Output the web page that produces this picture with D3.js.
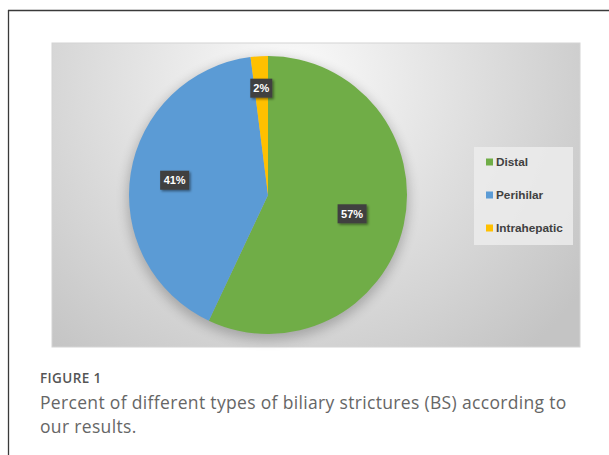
<!DOCTYPE html>
<meta charset="UTF-8">
<html>
<head>
	<title>Figure 1</title>
	<script src="https://d3js.org/d3.v7.min.js"></script>
	<style>
		body { margin: 0; background: #fff; }
		svg { display: block; }
	</style>
</head>
<body>
	<svg id="fig" width="609" height="455"></svg>

	<script>
		// data
		var categories = ["Distal", "Perihilar", "Intrahepatic"];
		var values = [57, 41, 2];
		var colors = ["#70AD47", "#5B9BD5", "#FFC000"];
		var captionHead = "FIGURE 1";
		var captionLines = ["Percent of different types of biliary strictures (BS) according to", "our results."];

		var svg = d3.select("#fig");
		var defs = svg.append("defs");

		// gray backdrop, lighter at the top middle
		var grad = defs.append("radialGradient")
			.attr("id", "bg")
			.attr("gradientUnits", "userSpaceOnUse")
			.attr("cx", 290).attr("cy", 80).attr("r", 360);
		grad.append("stop").attr("offset", "0%").attr("stop-color", "#fbfbfb");
		grad.append("stop").attr("offset", "45%").attr("stop-color", "#e2e2e2");
		grad.append("stop").attr("offset", "100%").attr("stop-color", "#c4c4c4");

		var blur = defs.append("filter").attr("id", "soft")
			.attr("x", "-20%").attr("y", "-20%").attr("width", "140%").attr("height", "140%");
		blur.append("feGaussianBlur").attr("stdDeviation", 6);

		var lblShadow = defs.append("filter").attr("id", "lblsh")
			.attr("x", "-30%").attr("y", "-30%").attr("width", "160%").attr("height", "160%");
		lblShadow.append("feDropShadow").attr("dx", 1.5).attr("dy", 1.5)
			.attr("stdDeviation", 1.2).attr("flood-color", "#000").attr("flood-opacity", 0.45);

		// outer frame (left + top rules)
		svg.append("line").attr("x1", 8.5).attr("y1", 10).attr("x2", 8.5).attr("y2", 455)
			.attr("stroke", "#3a3a3a").attr("stroke-width", 1.3);
		svg.append("line").attr("x1", 8).attr("y1", 10.5).attr("x2", 609).attr("y2", 10.5)
			.attr("stroke", "#3a3a3a").attr("stroke-width", 1.3);

		// chart area
		svg.append("rect")
			.attr("x", 52).attr("y", 43).attr("width", 528).attr("height", 304)
			.attr("fill", "url(#bg)")
			.attr("stroke", "#d4d4d4").attr("stroke-width", 1);

		var cx = 268, cy = 195, R = 139;
		var g = svg.append("g").attr("transform", "translate(" + cx + "," + cy + ")");

		// soft shadow under the pie
		g.append("circle").attr("cx", 0).attr("cy", 4).attr("r", R + 2)
			.attr("fill", "#000").attr("opacity", 0.22).attr("filter", "url(#soft)");

		var pie = d3.pie().sort(null).value(function(d){ return d; });
		var arcs = pie(values);
		var arc = d3.arc().innerRadius(0).outerRadius(R);

		g.selectAll("path.slice")
			.data(arcs)
			.enter()
			.append("path")
				.attr("class", "slice")
				.attr("d", arc)
				.attr("fill", function(d, i){ return colors[i]; });

		// data labels: dark boxes, placed along the slice bisector
		var labelR = [0.62, 0.68, 0.77];
		var total = d3.sum(values);
		arcs.forEach(function(d, i){
			var a = (d.startAngle + d.endAngle) / 2;
			var r = R * labelR[i];
			var x = Math.sin(a) * r, y = -Math.cos(a) * r;
			var txt = Math.round(d.value / total * 100) + "%";
			var w = txt.length === 2 ? 22 : 29, h = 19;
			var lg = g.append("g").attr("transform", "translate(" + x + "," + y + ")");
			lg.append("rect")
				.attr("x", -w / 2).attr("y", -h / 2).attr("width", w).attr("height", h)
				.attr("fill", "#404040")
				.attr("filter", "url(#lblsh)");
			lg.append("text")
				.attr("text-anchor", "middle").attr("dy", "0.36em")
				.attr("fill", "#fff")
				.style("font-family", "'Liberation Sans', Arial, sans-serif")
				.style("font-weight", "bold").style("font-size", "11px")
				.text(txt);
		});

		// legend
		var leg = svg.append("g");
		leg.append("rect")
			.attr("x", 474).attr("y", 147).attr("width", 99).attr("height", 98)
			.attr("fill", "#ececec").attr("opacity", 0.85);
		var ly = d3.scalePoint().domain(categories).range([162, 228]);
		var items = leg.selectAll("g.item")
			.data(categories)
			.enter()
			.append("g")
				.attr("class", "item")
				.attr("transform", function(d){ return "translate(486," + ly(d) + ")"; });
		items.append("rect")
			.attr("x", 0).attr("y", -3.5).attr("width", 7).attr("height", 7)
			.attr("fill", function(d, i){ return colors[i]; });
		items.append("text")
			.attr("x", 10).attr("dy", "0.36em")
			.attr("fill", "#404040")
			.style("font-family", "'Liberation Sans', Arial, sans-serif")
			.style("font-weight", "bold").style("font-size", "11.8px")
			.text(function(d){ return d; });

		// caption
		svg.append("text")
			.attr("x", 40).attr("y", 383)
			.attr("fill", "#555")
			.style("font-family", "'Open Sans', sans-serif")
			.style("font-weight", "600").style("font-size", "13.5px")
			.style("letter-spacing", "0.4px")
			.text(captionHead);
		svg.selectAll("text.cap")
			.data(captionLines)
			.enter()
			.append("text")
				.attr("class", "cap")
				.attr("x", 40)
				.attr("y", function(d, i){ return 409 + i * 24; })
				.attr("fill", "#666")
				.style("font-family", "'Open Sans', sans-serif")
				.style("font-size", "17.5px")
				.style("letter-spacing", "0.33px")
				.text(function(d){ return d; });
	</script>
</body>
</html>
